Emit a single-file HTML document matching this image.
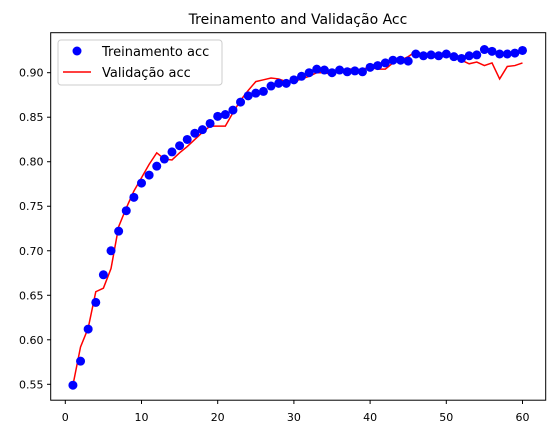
<!DOCTYPE html>
<html><head><meta charset="utf-8"><style>
body{margin:0;background:#fff;font-family:"Liberation Sans","DejaVu Sans",sans-serif}
svg text{font-family:"DejaVu Sans","Liberation Sans",sans-serif}
</style></head><body>
<svg id="c" width="556" height="435" xmlns="http://www.w3.org/2000/svg">
<rect width="556" height="435" fill="#fff"/>
<text x="298" y="24" font-size="14" text-anchor="middle">Treinamento and Validação Acc</text>
<g id="axes"></g>
<g id="series"></g>
<rect x="50.7" y="32.7" width="495" height="367.5" fill="none" stroke="#000" stroke-width="1"/>
<g>
<rect x="58" y="40" width="164" height="45" rx="3" fill="#fff" fill-opacity="0.8" stroke="#ccc"/>
<g>
<circle cx="77" cy="51" r="4.5" fill="#0000ff"/>
<text x="102" y="56" font-size="13">Treinamento acc</text></g>
<g>
<line x1="63" y1="72" x2="91" y2="72" stroke="#ff0000" stroke-width="1.5"/>
<text x="102" y="77" font-size="13">Validação acc</text></g>
</g>
</svg>
<script>
const epochs=[];for(let i=1;i<=60;i++)epochs.push(i);
const trainAcc=[0.549,0.576,0.612,0.642,0.673,0.700,0.722,0.745,0.760,0.776,0.785,0.795,0.803,0.811,0.818,0.825,0.832,0.836,0.843,0.851,0.853,0.858,0.867,0.874,0.877,0.879,0.885,0.888,0.888,0.892,0.896,0.900,0.904,0.903,0.900,0.903,0.901,0.902,0.901,0.906,0.908,0.911,0.914,0.914,0.913,0.921,0.919,0.920,0.919,0.921,0.918,0.916,0.919,0.920,0.926,0.924,0.921,0.921,0.922,0.925];
const valAcc=[0.549,0.592,0.613,0.654,0.658,0.680,0.727,0.748,0.767,0.782,0.797,0.810,0.803,0.802,0.810,0.817,0.825,0.833,0.840,0.840,0.840,0.855,0.869,0.880,0.890,0.892,0.894,0.893,0.890,0.890,0.893,0.896,0.900,0.900,0.898,0.902,0.905,0.903,0.904,0.906,0.904,0.904,0.911,0.914,0.918,0.924,0.920,0.918,0.917,0.919,0.919,0.914,0.910,0.912,0.908,0.911,0.893,0.907,0.908,0.911];
const xTicks=[0,10,20,30,40,50,60];
const yTicks=[0.55,0.60,0.65,0.70,0.75,0.80,0.85,0.90];
const NS="http://www.w3.org/2000/svg";
const X=v=>65.3+v*7.62;
const Y=v=>384.3-(v-0.55)*890.3;
const ax=document.getElementById('axes'),sr=document.getElementById('series');
function mk(t,a,p){const e=document.createElementNS(NS,t);for(const k in a)e.setAttribute(k,a[k]);p.appendChild(e);return e;}
xTicks.forEach(t=>{
 const g=mk('g',{},ax);
 
 
 mk('line',{x1:X(t),x2:X(t),y1:400.2,y2:404,stroke:'#000'},g);
 const tx=mk('text',{x:X(t),y:421,'font-size':11,'text-anchor':'middle'},g);tx.textContent=t;
});
yTicks.forEach(t=>{
 const g=mk('g',{},ax);
 
 
 mk('line',{x1:47,x2:50.7,y1:Y(t),y2:Y(t),stroke:'#000'},g);
 const tx=mk('text',{x:43.5,y:Y(t)+4,'font-size':11,'text-anchor':'end'},g);tx.textContent=t.toFixed(2);
});
const pl=mk('polyline',{points:epochs.map((e,i)=>X(e)+','+Y(valAcc[i])).join(' '),fill:'none',stroke:'#ff0000','stroke-width':1.5},sr);


epochs.forEach((e,i)=>{
 const c=mk('circle',{cx:X(e),cy:Y(trainAcc[i]),r:4.5,fill:'#0000ff'},sr);
 
 
});
</script>
</body></html>
